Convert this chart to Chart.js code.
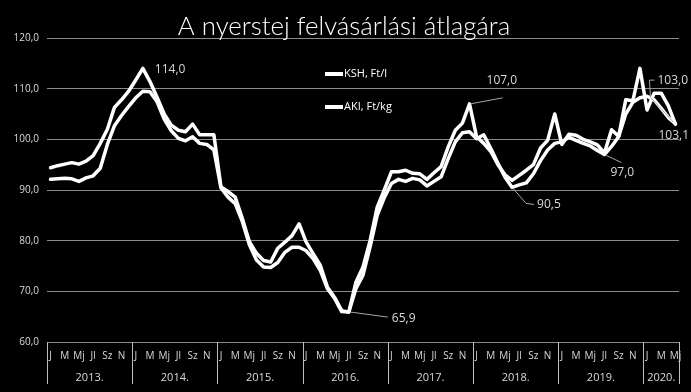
<!DOCTYPE html>
<html><head><meta charset="utf-8">
<script src="https://cdn.jsdelivr.net/npm/chart.js@4/dist/chart.umd.min.js"></script>
<style>html,body{margin:0;padding:0;background:#000;overflow:hidden;}#wrap{width:691px;height:392px;position:relative;}canvas{display:block;}</style>
</head><body><div id="wrap"><canvas id="c" width="691" height="392" style="width:691px;height:392px"></canvas></div>
<script>
const years = ['2013.','2014.','2015.','2016.','2017.','2018.','2019.','2020.'];
const monthsPerYear = [12,12,12,12,12,12,12,5];
const monthNames = ['jan','feb','márc','ápr','máj','jún','júl','aug','szept','okt','nov','dec'];
const monthTicks = ['J','','M','','Mj','','Jl','','Sz','','N',''];
const seriesNames = ['KSH, Ft/l','AKI, Ft/kg'];
const chartTitle = 'A nyerstej felvásárlási átlagára';
const yTicks = [60,70,80,90,100,110,120];

const kshValues = [
  94.4, 94.8, 95.1, 95.4, 95.1, 95.7, 96.8, 99.2, 102.0, 106.3, 107.8, 109.5,
  111.7, 114.0, 111.4, 108.3, 105.0, 102.8, 101.8, 101.5, 103.0, 100.9, 100.9, 100.9,
  90.6, 89.7, 88.6, 84.4, 79.8, 77.5, 76.1, 75.8, 78.5, 79.7, 81.0, 83.3,
  79.7, 77.4, 75.1, 70.8, 68.8, 66.2, 65.9, 71.8, 74.8, 80.0, 86.6, 90.0,
  93.6, 93.6, 93.9, 93.3, 93.2, 92.1, 93.4, 94.6, 98.5, 101.8, 103.2, 107.0,
  100.5, 99.2, 97.6, 95.0, 93.0, 91.9, 92.9, 93.9, 95.0, 98.3, 99.8, 105.0,
  99.0, 101.0, 100.8, 100.0, 99.5, 98.9, 97.3, 101.9, 100.6, 107.8, 107.6, 114.0,
  105.8, 109.1, 109.1, 106.6, 103.0
];
const akiValues = [
  92.1, 92.2, 92.3, 92.2, 91.7, 92.4, 92.8, 94.3, 99.0, 102.7, 104.7, 106.5,
  108.2, 109.5, 109.4, 107.4, 104.0, 101.7, 100.2, 99.7, 100.5, 99.2, 99.0, 97.9,
  90.4, 88.6, 87.3, 83.8, 79.2, 76.2, 74.8, 74.7, 75.7, 77.7, 78.7, 78.7,
  78.0, 76.4, 74.1, 70.5, 68.6, 66.0, 65.9, 70.5, 73.2, 78.8, 85.0, 88.5,
  91.3, 92.1, 91.7, 92.3, 92.0, 90.8, 91.7, 92.6, 96.2, 99.5, 101.3, 101.5,
  100.1, 100.9, 98.2, 95.3, 92.5, 90.5, 91.0, 91.4, 93.2, 95.8, 97.9, 99.2,
  99.5, 100.4, 99.8, 99.2, 98.7, 97.8, 97.0, 98.6, 100.5, 105.0, 107.3, 108.2,
  108.5, 107.8, 106.1, 104.3, 103.1
];
// annotated points: which series, which month index
const annotSeries = [0, 0, 1, 1, 1, 0, 1];
const annotIndex  = [13, 59, 42, 65, 78, 88, 88];

// ---- build categories ----
const categories = [];
years.forEach((y, i) => { for (let m = 0; m < monthsPerYear[i]; m++) categories.push(monthNames[m] + ' ' + y); });

const fmt = v => v.toFixed(1).replace('.', ',');

// label styling (offsets relative to the data point, leader line paths)
const annotStyle = [
  {dx: 12, dy: 1, align: 'left', leader: null},
  {dx: 17, dy: -23, align: 'left', leader: [[1,0],[33,-6]]},
  {dx: 43, dy: 6, align: 'left', leader: [[2,0],[39,5]]},
  {dx: 25, dy: 17, align: 'left', leader: [[1,1],[14,16],[22,17]]},
  {dx: 6, dy: 18, align: 'left', leader: [[2,1],[17,8]]},
  {dx: -18, dy: -44, align: 'left', leader: [[-2,-2],[-25,-27],[-26,-44],[-21,-44]]},
  {dx: -17, dy: 12, align: 'left', leader: null}
];

const deco = {
  id: 'deco',
  beforeDraw(chart) {
    const ctx = chart.ctx;
    ctx.save(); ctx.fillStyle = '#000'; ctx.fillRect(0, 0, chart.width, chart.height); ctx.restore();
  },
  afterDraw(chart) {
    const ctx = chart.ctx, xs = chart.scales.x, area = chart.chartArea;
    ctx.save();
    // title
    ctx.fillStyle = '#ffffff';
    ctx.textAlign = 'center'; ctx.textBaseline = 'alphabetic';
    let fs = 26;
    ctx.font = '300 ' + fs + 'px Lato';
    const w = ctx.measureText(chartTitle).width;
    fs = fs * 332 / w;
    ctx.font = '300 ' + fs.toFixed(1) + 'px Lato';
    ctx.fillText(chartTitle, 344, 35);

    // legend
    ctx.strokeStyle = '#ffffff'; ctx.lineWidth = 4; ctx.lineCap = 'butt';
    ctx.font = '11px "Open Sans"'; ctx.textAlign = 'left'; ctx.textBaseline = 'middle';
    seriesNames.forEach((n, i) => {
      const y = 74 + i * 33;
      ctx.beginPath(); ctx.moveTo(325, y); ctx.lineTo(343, y); ctx.stroke();
      ctx.fillText(n, 344, y);
    });

    // year separators and labels
    const half = (xs.getPixelForValue(1) - xs.getPixelForValue(0)) / 2;
    ctx.strokeStyle = '#bfbfbf'; ctx.lineWidth = 1;
    ctx.fillStyle = '#d9d9d9'; ctx.textAlign = 'center'; ctx.textBaseline = 'middle';
    ctx.font = '11px "Open Sans"';
    let start = 0;
    const sep = x => { const xx = Math.round(x) + 0.5; ctx.beginPath(); ctx.moveTo(xx, area.bottom); ctx.lineTo(xx, area.bottom + 42); ctx.stroke(); };
    years.forEach((yr, i) => {
      const n = monthsPerYear[i];
      const x0 = xs.getPixelForValue(start) - half;
      const x1 = xs.getPixelForValue(start + n - 1) + half;
      sep(x0);
      if (i === years.length - 1) sep(x1);
      ctx.fillText(yr, (x0 + x1) / 2, area.bottom + 36);
      start += n;
    });

    // data labels
    ctx.font = '12px "Open Sans"';
    ctx.fillStyle = '#d9d9d9';
    ctx.strokeStyle = '#a6a6a6'; ctx.lineWidth = 1;
    annotIndex.forEach((idx, k) => {
      const s = annotSeries[k];
      const p = chart.getDatasetMeta(s).data[idx];
      const st = annotStyle[k];
      const val = (s === 0 ? kshValues : akiValues)[idx];
      if (st.leader) {
        ctx.beginPath();
        st.leader.forEach((pt, j) => { const fx = p.x + pt[0], fy = p.y + pt[1]; j ? ctx.lineTo(fx, fy) : ctx.moveTo(fx, fy); });
        ctx.stroke();
      }
      ctx.textAlign = st.align;
      ctx.fillText(fmt(val), p.x + st.dx, p.y + st.dy);
    });
    ctx.restore();
  }
};

new Chart(document.getElementById('c'), {
  type: 'line',
  data: {
    labels: categories,
    datasets: [
      {label: seriesNames[0], data: kshValues, borderColor: '#ffffff', borderWidth: 3.5, pointRadius: 0, tension: 0, borderJoinStyle: 'round', borderCapStyle: 'round'},
      {label: seriesNames[1], data: akiValues, borderColor: '#ffffff', borderWidth: 3.5, pointRadius: 0, tension: 0, borderJoinStyle: 'round', borderCapStyle: 'round'}
    ]
  },
  options: {
    responsive: false,
    animation: false,
    devicePixelRatio: 1,
    layout: {padding: {top: 38, right: 12, left: 0, bottom: 0}},
    plugins: {legend: {display: false}, tooltip: {enabled: false}, title: {display: false}},
    scales: {
      x: {
        type: 'category',
        offset: true,
        grid: {display: false, drawTicks: false},
        border: {display: false},
        ticks: {
          autoSkip: false, maxRotation: 0, minRotation: 0, padding: 8,
          color: '#d9d9d9', font: {family: '"Open Sans"', size: 10},
          callback: (v, i) => monthTicks[i % 12]
        },
        afterFit: s => { s.height = 50; }
      },
      y: {
        min: 60, max: 120,
        afterBuildTicks: s => { s.ticks = yTicks.map(v => ({value: v})); },
        grid: {color: '#8c8c8c', lineWidth: 1, drawTicks: false},
        border: {display: false},
        ticks: {color: '#d9d9d9', font: {family: '"Open Sans"', size: 10}, padding: 8, callback: v => fmt(v)},
        afterFit: s => { s.width = 47; }
      }
    }
  },
  plugins: [deco]
});
</script>
</body></html>
